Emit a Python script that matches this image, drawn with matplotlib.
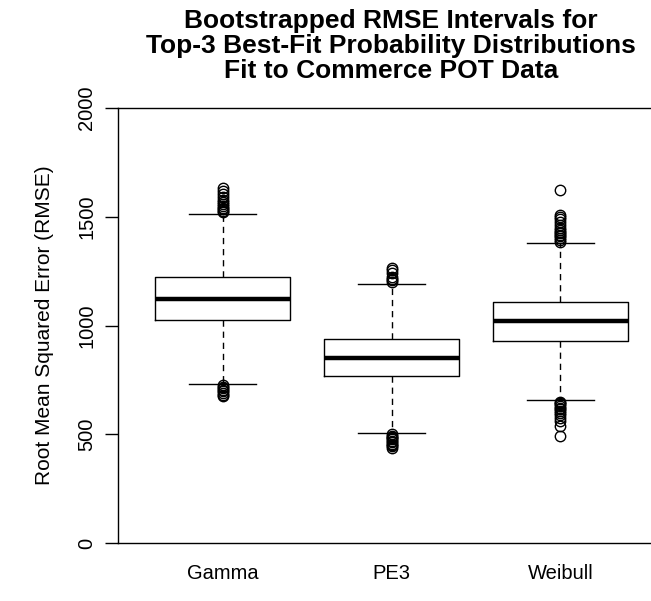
import matplotlib
matplotlib.use("Agg")
import matplotlib.pyplot as plt

plt.rcParams['font.family'] = ['Liberation Sans', 'DejaVu Sans']

# five-number summaries of the bootstrapped RMSE for each distribution
dists = ['Gamma', 'PE3', 'Weibull']
q1 = [1025, 767, 927]
med = [1120, 852, 1020]
q3 = [1222, 938, 1108]
whis_lo = [733, 508, 658]
whis_hi = [1513, 1193, 1380]

# values beyond the whiskers
out_gamma = [1520, 1528, 1535, 1542, 1550, 1558, 1566, 1575, 1590, 1605, 1620, 1632,
             725, 718, 712, 705, 698, 690, 682, 675]
out_pe3 = [1200, 1208, 1216, 1225, 1240, 1255, 1264,
           500, 494, 488, 482, 476, 470, 463, 457, 450, 444, 438]
out_weibull = [1386, 1393, 1400, 1410, 1418, 1425, 1432, 1440, 1450, 1462, 1475, 1488,
               1500, 1508, 1625,
               650, 643, 637, 630, 622, 615, 607, 598, 588, 575, 560, 540, 493]
outliers = [out_gamma, out_pe3, out_weibull]

stats = []
for i, name in enumerate(dists):
    stats.append({'label': name, 'q1': q1[i], 'med': med[i], 'q3': q3[i],
                  'whislo': whis_lo[i], 'whishi': whis_hi[i], 'fliers': outliers[i]})

fig = plt.figure(figsize=(6.51, 6.01), dpi=100)
ax = fig.add_axes([118 / 651, 58 / 601, 547 / 651, 435 / 601])

ax.bxp(stats, positions=[1, 2, 3], widths=0.8, showfliers=True,
       boxprops=dict(color='black', linewidth=1.0),
       medianprops=dict(color='black', linewidth=3.2, solid_capstyle='butt'),
       whiskerprops=dict(color='black', linewidth=1.0, linestyle=(0, (4.5, 3.5))),
       capprops=dict(color='black', linewidth=1.0),
       flierprops=dict(marker='o', markerfacecolor='none', markeredgecolor='black',
                       markersize=7.5, markeredgewidth=1.0))

ax.set_xlim(0.38, 3.62)
ax.set_ylim(0, 2000)
ax.set_yticks([0, 500, 1000, 1500, 2000])
ax.set_yticklabels(['0', '500', '1000', '1500', '2000'], rotation=90, va='center')
ax.tick_params(axis='y', length=9.5, width=1.0, labelsize=14.5, pad=6)
ax.tick_params(axis='x', length=0, labelsize=14.5, pad=15)
for sp in ax.spines.values():
    sp.set_linewidth(1.0)

ax.set_ylabel('Root Mean Squared Error (RMSE)', fontsize=15, labelpad=17)

fig.text(391 / 651, 1 - 46 / 601,
         'Bootstrapped RMSE Intervals for\nTop-3 Best-Fit Probability Distributions\nFit to Commerce POT Data',
         ha='center', va='center', fontsize=19, fontweight='bold', linespacing=1.05)

fig.savefig('out.png', dpi=100)
